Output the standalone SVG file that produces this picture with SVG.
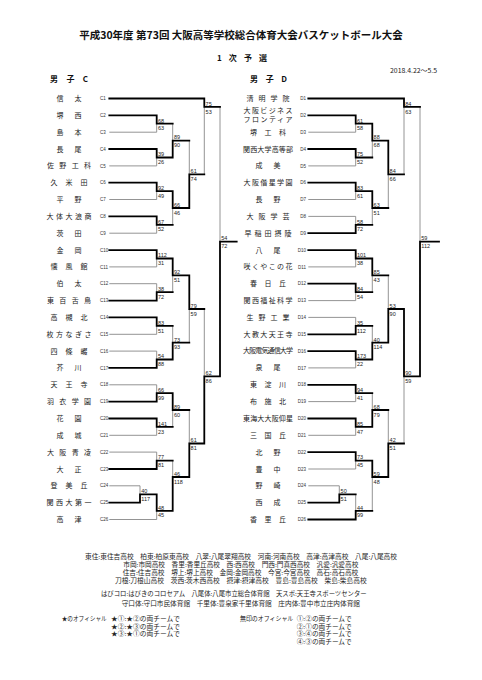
<svg xmlns="http://www.w3.org/2000/svg" width="482" height="680" viewBox="0 0 482 680">
<style>
.w{stroke:#000;stroke-width:1.8;fill:none;stroke-linecap:square}
.l{stroke:#888;stroke-width:0.9;fill:none}
.n{font-family:"Noto Sans CJK JP","Noto Sans CJK SC",sans-serif;font-size:7px;fill:#222}
.c{font-family:"Liberation Sans",sans-serif;font-size:4.5px;fill:#333}
.ce{font-family:"Liberation Sans",sans-serif;font-size:4.5px;fill:#333;text-anchor:end}
.s{font-family:"Liberation Sans",sans-serif;font-size:5.5px;fill:#222}
.f{font-family:"Noto Sans CJK JP","Noto Sans CJK SC",sans-serif;font-size:6.3px;fill:#222}
.h{font-family:"Noto Sans CJK JP","Noto Sans CJK SC",sans-serif;font-weight:700;fill:#111}
</style>
<rect width="482" height="680" fill="#fff"/>
<g id="header">
<text class="h" x="241" y="38.5" font-size="10.5" text-anchor="middle">平成30年度 第73回 大阪高等学校総合体育大会バスケットボール大会</text>
<text class="h" x="217" y="61" font-size="8" textLength="50" lengthAdjust="spacing">1 次 予 選</text>
<text class="f" x="390" y="72.5" font-size="6" textLength="47" lengthAdjust="spacingAndGlyphs">2018.4.22～5.5</text>
<text class="h" x="50" y="82" font-size="8" textLength="38" lengthAdjust="spacing">男 子 C</text>
<text class="h" x="250" y="82" font-size="8" textLength="37" lengthAdjust="spacing">男 子 D</text>
</g>
<g id="connectors">
<path class="l" d="M109.3 132.2H156.7M109.3 165.9H156.7M109.3 199.5H156.7M109.3 233.2H156.7M109.3 266.9H156.7M109.3 283.7H156.7M109.3 334.3H156.7M109.3 351.1H156.7M109.3 384.8H156.7M109.3 435.3H156.7M109.3 452.1H156.7M109.3 485.8H140M109.3 519.5H156.7
M156.7 123.7V132.2M156.7 157.5V165.9M156.7 191.1V199.5M156.7 224.8V233.2M156.7 258.5V266.9M156.7 283.7V292.2M156.7 325.9V334.3M156.7 351.1V359.5M156.7 384.8V393.2M156.7 426.9V435.3M156.7 452.1V460.6M140 485.8V494.3M156.7 510.8V519.5
M172.7 123.7V140.6M172.7 208V224.8M172.7 275.3V292.2M172.7 325.9V342.7M172.7 410V426.9M172.7 460.6V477
M189.3 140.6V174.3M189.3 309V342.7M189.3 410V443.5M204.3 106.9V174.3M204.3 309V376.3M220 106.9V241.6"/>
<path class="w" d="M109.3 98.5H204.3M109.3 115.3H156.7M109.3 149H156.7M109.3 182.7H156.7M109.3 216.4H156.7M109.3 250.1H156.7M109.3 300.6H156.7M109.3 317.4H156.7M109.3 367.9H156.7M109.3 401.6H156.7M109.3 418.5H156.7M109.3 469H156.7M109.3 502.7H140
M156.7 115.3V123.7H172.7M156.7 149V157.5H172.7M156.7 182.7V191.1H172.7M156.7 216.4V224.8H172.7M156.7 250.1V258.5H172.7M156.7 300.6V292.2H172.7M156.7 317.4V325.9H172.7M156.7 367.9V359.5H172.7M156.7 401.6V393.2H172.7M156.7 418.5V426.9H172.7M156.7 469V460.6H172.7M140 502.7V494.3H156.7M156.7 494.3V510.8H172.7
M172.7 157.5V140.6H189.3M172.7 191.1V208H189.3M172.7 258.5V275.3H189.3M172.7 359.5V342.7H189.3M172.7 393.2V410H189.3M172.7 510.8V477H189.3
M189.3 208V174.3H204.3M189.3 275.3V309H204.3M189.3 477V443.5H204.3
M204.3 98.5V106.9H220M204.3 443.5V376.3H220M220 376.3V241.6H236.7"/>
<path class="l" d="M308.3 132.2H355.7M308.3 165.9H355.7M308.3 199.5H355.7M308.3 216.4H355.7M308.3 266.9H355.7M308.3 300.6H355.7M308.3 317.4H355.7M308.3 367.9H355.7M308.3 401.6H355.7M308.3 435.3H355.7M308.3 469H355.7M308.3 485.8H339.3
M355.7 123.7V132.2M355.7 157.5V165.9M355.7 191.1V199.5M355.7 216.4V224.8M355.7 258.5V266.9M355.7 292.2V300.6M355.7 317.4V325.9M355.7 359.5V367.9M355.7 393.2V401.6M355.7 426.9V435.3M355.7 460.6V469M339.3 485.8V494.3M355.7 494.3V510.8
M372.3 140.6V157.5M372.3 208V224.8M372.3 275.3V292.2M372.3 325.9V342.7M372.3 393.2V410M372.3 477V510.8
M388.3 174.3V208M388.3 275.3V309M388.3 410V443.5M404 106.9V174.3M404 376.3V443.5M420 106.9V241.6"/>
<path class="w" d="M308.3 98.5H404M308.3 115.3H355.7M308.3 149H355.7M308.3 182.7H355.7M308.3 233.2H355.7M308.3 250.1H355.7M308.3 283.7H355.7M308.3 334.3H355.7M308.3 351.1H355.7M308.3 384.8H355.7M308.3 418.5H355.7M308.3 452.1H355.7M308.3 502.7H339.3M308.3 519.5H355.7
M355.7 115.3V123.7H372.3M355.7 149V157.5H372.3M355.7 182.7V191.1H372.3M355.7 233.2V224.8H372.3M355.7 250.1V258.5H372.3M355.7 283.7V292.2H372.3M355.7 334.3V325.9H372.3M355.7 351.1V359.5H372.3M355.7 384.8V393.2H372.3M355.7 418.5V426.9H372.3M355.7 452.1V460.6H372.3M339.3 502.7V494.3H355.7M355.7 519.5V510.8H372.3
M372.3 123.7V140.6H388.3M372.3 191.1V208H388.3M372.3 258.5V275.3H388.3M372.3 359.5V342.7H388.3M372.3 426.9V410H388.3M372.3 460.6V477H388.3
M388.3 140.6V174.3H404M388.3 342.7V309H404M388.3 477V443.5H404
M404 98.5V106.9H420M404 309V376.3H420M420 376.3V241.6H439"/>
</g>
<g id="teams-C">
<g id="C1"><text class="n" x="56.5" y="101" textLength="25" lengthAdjust="spacing">信太</text><text class="c" x="100" y="100.1">C1</text></g>
<g id="C2"><text class="n" x="56.5" y="117.8" textLength="25" lengthAdjust="spacing">堺西</text><text class="c" x="100" y="116.9">C2</text></g>
<g id="C3"><text class="n" x="56.5" y="134.7" textLength="25" lengthAdjust="spacing">島本</text><text class="c" x="100" y="133.8">C3</text></g>
<g id="C4"><text class="n" x="56.5" y="151.5" textLength="25" lengthAdjust="spacing">長尾</text><text class="c" x="100" y="150.6">C4</text></g>
<g id="C5"><text class="n" x="47" y="168.4" textLength="44" lengthAdjust="spacing">佐野工科</text><text class="c" x="100" y="167.5">C5</text></g>
<g id="C6"><text class="n" x="50.5" y="185.2" textLength="37" lengthAdjust="spacing">久米田</text><text class="c" x="100" y="184.3">C6</text></g>
<g id="C7"><text class="n" x="56.5" y="202" textLength="25" lengthAdjust="spacing">平野</text><text class="c" x="100" y="201.1">C7</text></g>
<g id="C8"><text class="n" x="46.5" y="218.9" textLength="45" lengthAdjust="spacing">大体大浪商</text><text class="c" x="100" y="218">C8</text></g>
<g id="C9"><text class="n" x="56.5" y="235.7" textLength="25" lengthAdjust="spacing">茨田</text><text class="c" x="100" y="234.8">C9</text></g>
<g id="C10"><text class="n" x="56.5" y="252.6" textLength="25" lengthAdjust="spacing">金岡</text><text class="c" x="100" y="251.7">C10</text></g>
<g id="C11"><text class="n" x="50.5" y="269.4" textLength="37" lengthAdjust="spacing">懐風館</text><text class="c" x="100" y="268.5">C11</text></g>
<g id="C12"><text class="n" x="56.5" y="286.2" textLength="25" lengthAdjust="spacing">伯太</text><text class="c" x="100" y="285.3">C12</text></g>
<g id="C13"><text class="n" x="47" y="303.1" textLength="44" lengthAdjust="spacing">東百舌鳥</text><text class="c" x="100" y="302.2">C13</text></g>
<g id="C14"><text class="n" x="50.5" y="319.9" textLength="37" lengthAdjust="spacing">高槻北</text><text class="c" x="100" y="319">C14</text></g>
<g id="C15"><text class="n" x="46.5" y="336.8" textLength="45" lengthAdjust="spacing">枚方なぎさ</text><text class="c" x="100" y="335.9">C15</text></g>
<g id="C16"><text class="n" x="50.5" y="353.6" textLength="37" lengthAdjust="spacing">四條畷</text><text class="c" x="100" y="352.7">C16</text></g>
<g id="C17"><text class="n" x="56.5" y="370.4" textLength="25" lengthAdjust="spacing">芥川</text><text class="c" x="100" y="369.5">C17</text></g>
<g id="C18"><text class="n" x="50.5" y="387.3" textLength="37" lengthAdjust="spacing">天王寺</text><text class="c" x="100" y="386.4">C18</text></g>
<g id="C19"><text class="n" x="47" y="404.1" textLength="44" lengthAdjust="spacing">羽衣学園</text><text class="c" x="100" y="403.2">C19</text></g>
<g id="C20"><text class="n" x="56.5" y="421" textLength="25" lengthAdjust="spacing">花園</text><text class="c" x="100" y="420.1">C20</text></g>
<g id="C21"><text class="n" x="56.5" y="437.8" textLength="25" lengthAdjust="spacing">成城</text><text class="c" x="100" y="436.9">C21</text></g>
<g id="C22"><text class="n" x="47" y="454.6" textLength="44" lengthAdjust="spacing">大阪青凌</text><text class="c" x="100" y="453.7">C22</text></g>
<g id="C23"><text class="n" x="56.5" y="471.5" textLength="25" lengthAdjust="spacing">大正</text><text class="c" x="100" y="470.6">C23</text></g>
<g id="C24"><text class="n" x="50.5" y="488.3" textLength="37" lengthAdjust="spacing">登美丘</text><text class="c" x="100" y="487.4">C24</text></g>
<g id="C25"><text class="n" x="46.5" y="505.2" textLength="45" lengthAdjust="spacing">関西大第一</text><text class="c" x="100" y="504.3">C25</text></g>
<g id="C26"><text class="n" x="56.5" y="522" textLength="25" lengthAdjust="spacing">高津</text><text class="c" x="100" y="521.1">C26</text></g>
</g>
<g id="teams-D">
<g id="D1"><text class="n" x="246.5" y="101" textLength="43" lengthAdjust="spacing">清明学院</text><text class="ce" x="306" y="100.1">D1</text></g>
<g id="D2"><text class="n" x="243.5" y="113.4" font-size="5.8" textLength="49" lengthAdjust="spacing">大阪ビジネス</text><text class="n" x="243.5" y="122.1" font-size="5.8" textLength="49" lengthAdjust="spacing">フロンティア</text><text class="ce" x="306" y="116.9">D2</text></g>
<g id="D3"><text class="n" x="250" y="134.7" textLength="36" lengthAdjust="spacing">堺工科</text><text class="ce" x="306" y="133.8">D3</text></g>
<g id="D4"><text class="n" x="243" y="151.5" textLength="50" lengthAdjust="spacing">関西大学高等部</text><text class="ce" x="306" y="150.6">D4</text></g>
<g id="D5"><text class="n" x="255.5" y="168.4" textLength="25" lengthAdjust="spacing">成美</text><text class="ce" x="306" y="167.5">D5</text></g>
<g id="D6"><text class="n" x="243.5" y="185.2" textLength="49" lengthAdjust="spacing">大阪偕星学園</text><text class="ce" x="306" y="184.3">D6</text></g>
<g id="D7"><text class="n" x="255.5" y="202" textLength="25" lengthAdjust="spacing">長野</text><text class="ce" x="306" y="201.1">D7</text></g>
<g id="D8"><text class="n" x="246.5" y="218.9" textLength="43" lengthAdjust="spacing">大阪学芸</text><text class="ce" x="306" y="218">D8</text></g>
<g id="D9"><text class="n" x="244.5" y="235.7" textLength="47" lengthAdjust="spacing">早稲田摂陵</text><text class="ce" x="306" y="234.8">D9</text></g>
<g id="D10"><text class="n" x="255.5" y="252.6" textLength="25" lengthAdjust="spacing">八尾</text><text class="ce" x="306" y="251.7">D10</text></g>
<g id="D11"><text class="n" x="243.5" y="269.4" textLength="49" lengthAdjust="spacing">咲くやこの花</text><text class="ce" x="306" y="268.5">D11</text></g>
<g id="D12"><text class="n" x="250" y="286.2" textLength="36" lengthAdjust="spacing">春日丘</text><text class="ce" x="306" y="285.3">D12</text></g>
<g id="D13"><text class="n" x="243.5" y="303.1" textLength="49" lengthAdjust="spacing">関西福祉科学</text><text class="ce" x="306" y="302.2">D13</text></g>
<g id="D14"><text class="n" x="246.5" y="319.9" textLength="43" lengthAdjust="spacing">生野工業</text><text class="ce" x="306" y="319">D14</text></g>
<g id="D15"><text class="n" x="243.5" y="336.8" textLength="49" lengthAdjust="spacing">大教大天王寺</text><text class="ce" x="306" y="335.9">D15</text></g>
<g id="D16"><text class="n" x="243" y="353.4" font-size="6" textLength="50" lengthAdjust="spacing">大阪電気通信大学</text><text class="ce" x="306" y="352.7">D16</text></g>
<g id="D17"><text class="n" x="255.5" y="370.4" textLength="25" lengthAdjust="spacing">泉尾</text><text class="ce" x="306" y="369.5">D17</text></g>
<g id="D18"><text class="n" x="250" y="387.3" textLength="36" lengthAdjust="spacing">東淀川</text><text class="ce" x="306" y="386.4">D18</text></g>
<g id="D19"><text class="n" x="250" y="404.1" textLength="36" lengthAdjust="spacing">布施北</text><text class="ce" x="306" y="403.2">D19</text></g>
<g id="D20"><text class="n" x="243" y="421" textLength="50" lengthAdjust="spacing">東海大大阪仰星</text><text class="ce" x="306" y="420.1">D20</text></g>
<g id="D21"><text class="n" x="250" y="437.8" textLength="36" lengthAdjust="spacing">三国丘</text><text class="ce" x="306" y="436.9">D21</text></g>
<g id="D22"><text class="n" x="255.5" y="454.6" textLength="25" lengthAdjust="spacing">北野</text><text class="ce" x="306" y="453.7">D22</text></g>
<g id="D23"><text class="n" x="255.5" y="471.5" textLength="25" lengthAdjust="spacing">豊中</text><text class="ce" x="306" y="470.6">D23</text></g>
<g id="D24"><text class="n" x="255.5" y="488.3" textLength="25" lengthAdjust="spacing">野崎</text><text class="ce" x="306" y="487.4">D24</text></g>
<g id="D25"><text class="n" x="255.5" y="505.2" textLength="25" lengthAdjust="spacing">西成</text><text class="ce" x="306" y="504.3">D25</text></g>
<g id="D26"><text class="n" x="250" y="522" textLength="36" lengthAdjust="spacing">香里丘</text><text class="ce" x="306" y="521.1">D26</text></g>
</g>
<g id="scores-C">
<text class="s" x="158" y="122.5">68</text><text class="s" x="158" y="130.3">63</text>
<text class="s" x="158" y="156.3">39</text><text class="s" x="158" y="164.1">26</text>
<text class="s" x="158" y="189.9">92</text><text class="s" x="158" y="197.7">49</text>
<text class="s" x="158" y="223.6">67</text><text class="s" x="158" y="231.4">52</text>
<text class="s" x="158" y="257.3">112</text><text class="s" x="158" y="265.1">31</text>
<text class="s" x="158" y="291">38</text><text class="s" x="158" y="298.8">72</text>
<text class="s" x="158" y="324.7">83</text><text class="s" x="158" y="332.5">51</text>
<text class="s" x="158" y="358.3">54</text><text class="s" x="158" y="366.1">88</text>
<text class="s" x="158" y="392">66</text><text class="s" x="158" y="399.8">99</text>
<text class="s" x="158" y="425.7">141</text><text class="s" x="158" y="433.5">23</text>
<text class="s" x="158" y="459.4">77</text><text class="s" x="158" y="467.2">81</text>
<text class="s" x="141.3" y="493.1">40</text><text class="s" x="141.3" y="500.9">117</text>
<text class="s" x="158" y="509.6">48</text><text class="s" x="158" y="517.4">45</text>
<text class="s" x="174" y="139.4">89</text><text class="s" x="174" y="147.2">90</text>
<text class="s" x="174" y="206.8">66</text><text class="s" x="174" y="214.6">46</text>
<text class="s" x="174" y="274.1">92</text><text class="s" x="174" y="281.9">51</text>
<text class="s" x="174" y="341.5">73</text><text class="s" x="174" y="349.3">93</text>
<text class="s" x="174" y="408.8">89</text><text class="s" x="174" y="416.6">60</text>
<text class="s" x="174" y="475.8">46</text><text class="s" x="174" y="483.6">118</text>
<text class="s" x="190.6" y="173.1">61</text><text class="s" x="190.6" y="180.9">74</text>
<text class="s" x="190.6" y="307.8">79</text><text class="s" x="190.6" y="315.6">59</text>
<text class="s" x="190.6" y="442.3">61</text><text class="s" x="190.6" y="450.1">81</text>
<text class="s" x="205.6" y="105.7">75</text><text class="s" x="205.6" y="113.5">53</text>
<text class="s" x="205.6" y="375.1">62</text><text class="s" x="205.6" y="382.9">86</text>
<text class="s" x="221.3" y="240.4">54</text><text class="s" x="221.3" y="248.2">72</text>
</g>
<g id="scores-D">
<text class="s" x="357" y="122.5">61</text><text class="s" x="357" y="130.3">58</text>
<text class="s" x="357" y="156.3">75</text><text class="s" x="357" y="164.1">52</text>
<text class="s" x="357" y="189.9">83</text><text class="s" x="357" y="197.7">61</text>
<text class="s" x="357" y="223.6">58</text><text class="s" x="357" y="231.4">72</text>
<text class="s" x="357" y="257.3">101</text><text class="s" x="357" y="265.1">38</text>
<text class="s" x="357" y="291">84</text><text class="s" x="357" y="298.8">54</text>
<text class="s" x="357" y="324.7">35</text><text class="s" x="357" y="332.5">112</text>
<text class="s" x="357" y="358.3">173</text><text class="s" x="357" y="366.1">22</text>
<text class="s" x="357" y="392">94</text><text class="s" x="357" y="399.8">41</text>
<text class="s" x="357" y="425.7">85</text><text class="s" x="357" y="433.5">47</text>
<text class="s" x="357" y="459.4">73</text><text class="s" x="357" y="467.2">45</text>
<text class="s" x="340.6" y="493.1">50</text><text class="s" x="340.6" y="500.9">51</text>
<text class="s" x="357" y="509.6">44</text><text class="s" x="357" y="517.4">99</text>
<text class="s" x="373.6" y="139.4">88</text><text class="s" x="373.6" y="147.2">68</text>
<text class="s" x="373.6" y="206.8">63</text><text class="s" x="373.6" y="214.6">51</text>
<text class="s" x="373.6" y="274.1">85</text><text class="s" x="373.6" y="281.9">43</text>
<text class="s" x="373.6" y="341.5">40</text><text class="s" x="373.6" y="349.3">114</text>
<text class="s" x="373.6" y="408.8">68</text><text class="s" x="373.6" y="416.6">79</text>
<text class="s" x="373.6" y="475.8">59</text><text class="s" x="373.6" y="483.6">48</text>
<text class="s" x="389.6" y="173.1">84</text><text class="s" x="389.6" y="180.9">66</text>
<text class="s" x="389.6" y="307.8">53</text><text class="s" x="389.6" y="315.6">90</text>
<text class="s" x="389.6" y="442.3">42</text><text class="s" x="389.6" y="450.1">51</text>
<text class="s" x="405.3" y="105.7">84</text><text class="s" x="405.3" y="113.5">63</text>
<text class="s" x="405.3" y="375.1">90</text><text class="s" x="405.3" y="382.9">59</text>
<text class="s" x="421.3" y="240.4">59</text><text class="s" x="421.3" y="248.2">112</text>
</g>
<g id="footer">
<text class="f" x="85" y="559" textLength="312" lengthAdjust="spacingAndGlyphs">東住:東住吉高校　柏東:柏原東高校　八翠:八尾翠翔高校　河南:河南高校　高津:高津高校　八尾:八尾高校</text>
<text class="f" x="123.3" y="567.3" textLength="235" lengthAdjust="spacingAndGlyphs">市岡:市岡高校　香里:香里丘高校　西:西高校　門西:門真西高校　汎愛:汎愛高校</text>
<text class="f" x="122.7" y="575" textLength="235.6" lengthAdjust="spacingAndGlyphs">住吉:住吉高校　堺上:堺上高校　金岡:金岡高校　今宮:今宮高校　高石:高石高校</text>
<text class="f" x="115" y="582.5" textLength="251.7" lengthAdjust="spacingAndGlyphs">刀根:刀根山高校　茨西:茨木西高校　摂津:摂津高校　豊島:豊島高校　柴島:柴島高校</text>
<text class="f" x="101" y="596.3" textLength="265.7" lengthAdjust="spacingAndGlyphs">はびコロ:はびきのコロセアム　八尾体:八尾市立総合体育館　天スポ:天王寺スポーツセンター</text>
<text class="f" x="121.7" y="605.6" textLength="238.3" lengthAdjust="spacingAndGlyphs">守口体:守口市民体育館　千里体:豊泉家千里体育館　庄内体:豊中市立庄内体育館</text>
<text class="f" x="61.7" y="621" textLength="45" lengthAdjust="spacingAndGlyphs">★のオフィシャル</text>
<text class="f" x="111" y="621" textLength="69" lengthAdjust="spacingAndGlyphs">★①:★②の両チームで</text>
<text class="f" x="111" y="628.7" textLength="69" lengthAdjust="spacingAndGlyphs">★②:★③の両チームで</text>
<text class="f" x="111" y="636.3" textLength="69" lengthAdjust="spacingAndGlyphs">★③:★①の両チームで</text>
<text class="f" x="240" y="621" textLength="53.3" lengthAdjust="spacingAndGlyphs">無印のオフィシャル</text>
<text class="f" x="296.7" y="621" textLength="55" lengthAdjust="spacingAndGlyphs">①:②の両チームで</text>
<text class="f" x="296.7" y="628.7" textLength="55" lengthAdjust="spacingAndGlyphs">②:①の両チームで</text>
<text class="f" x="296.7" y="636.3" textLength="55" lengthAdjust="spacingAndGlyphs">③:④の両チームで</text>
<text class="f" x="296.7" y="644" textLength="55" lengthAdjust="spacingAndGlyphs">④:③の両チームで</text>
</g>
</svg>
